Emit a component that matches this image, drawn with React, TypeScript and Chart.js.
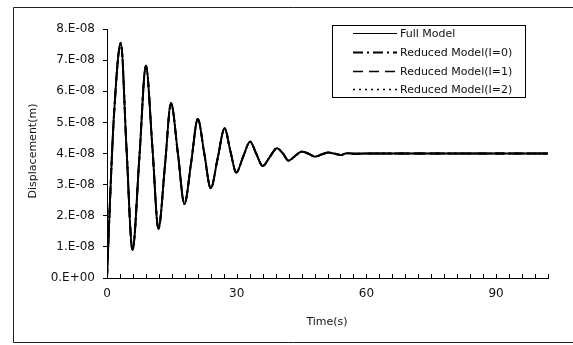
import React, { useEffect, useRef } from "react";
import Chart from "chart.js/auto";

// time (s)
const timeS = [
  0, 0.7, 1.6, 3.2, 4.5, 5.9, 7.5, 9.0, 10.5, 11.9, 13.4, 14.8, 16.4, 17.9, 19.5, 21.0,
  22.5, 24.0, 25.6, 27.2, 28.5, 29.9, 31.5, 33.1, 34.5, 36.0, 37.7, 39.3, 40.7, 42.0,
  43.5, 45.0, 46.5, 48.1, 49.7, 51.2, 52.5, 54.0, 55.5, 57.5, 60, 66, 72, 78, 84, 90, 96, 102,
];

// displacement (m)
const fullModel = [
  0, 2.5e-8, 5.2e-8, 7.55e-8, 4.2e-8, 0.9e-8, 3.9e-8, 6.82e-8, 4.2e-8, 1.58e-8, 3.6e-8, 5.62e-8,
  4.0e-8, 2.38e-8, 3.75e-8, 5.11e-8, 4.0e-8, 2.88e-8, 3.85e-8, 4.81e-8, 4.1e-8, 3.39e-8, 3.9e-8,
  4.38e-8, 4.0e-8, 3.6e-8, 3.9e-8, 4.17e-8, 4.0e-8, 3.77e-8, 3.92e-8, 4.06e-8, 4.0e-8, 3.9e-8,
  3.97e-8, 4.03e-8, 4.0e-8, 3.95e-8, 4.01e-8, 3.99e-8, 4.0e-8, 4.0e-8, 4.0e-8, 4.0e-8, 4.0e-8,
  4.0e-8, 4.0e-8, 4.0e-8,
];
const reducedI0 = fullModel.slice();
const reducedI1 = fullModel.slice();
const reducedI2 = fullModel.slice();

const seriesNames = ["Full Model", "Reduced Model(I=0)", "Reduced Model(I=1)", "Reduced Model(I=2)"];
const yTickLabels = ["0.E+00", "1.E-08", "2.E-08", "3.E-08", "4.E-08", "5.E-08", "6.E-08", "7.E-08", "8.E-08"];
const xTickLabels = [0, 30, 60, 90];

const FONT = "'DejaVu Sans', sans-serif";

const decorPlugin = {
  id: "decor",
  afterDraw(chart: any) {
    const ctx = chart.ctx;
    const xs = chart.scales.x;
    const area = chart.chartArea;
    ctx.save();
    // outer frame
    ctx.strokeStyle = "#222";
    ctx.lineWidth = 1;
    ctx.beginPath();
    ctx.moveTo(573, 7.5);
    ctx.lineTo(13.5, 7.5);
    ctx.lineTo(13.5, 342.5);
    ctx.lineTo(573, 342.5);
    ctx.stroke();

    // inward x ticks
    ctx.strokeStyle = "#000";
    ctx.beginPath();
    for (let t = 0; t <= 102; t += 3) {
      const px = Math.round(xs.getPixelForValue(t)) + 0.5;
      ctx.moveTo(px, area.bottom);
      ctx.lineTo(px, area.bottom - 4);
    }
    ctx.stroke();

    // axis titles
    ctx.fillStyle = "#111";
    ctx.font = `11px ${FONT}`;
    ctx.textAlign = "center";
    ctx.textBaseline = "middle";
    ctx.fillText("Time(s)", 327, 322);
    ctx.save();
    ctx.translate(33, 151);
    ctx.rotate(-Math.PI / 2);
    ctx.fillText("Displacement(m)", 0, 0);
    ctx.restore();

    // legend
    ctx.lineWidth = 1;
    ctx.strokeStyle = "#000";
    ctx.strokeRect(332.5, 25.5, 193, 72);
    const rows = [33, 52, 71, 89];
    const dashes = [[], [10, 4, 2, 4], [10, 6], [2, 4]];
    const widths = [1, 2, 1.5, 1.5];
    ctx.textAlign = "left";
    for (let i = 0; i < 4; i++) {
      ctx.beginPath();
      ctx.setLineDash(dashes[i]);
      ctx.lineWidth = widths[i];
      ctx.moveTo(353, rows[i] + 0.5);
      ctx.lineTo(397, rows[i] + 0.5);
      ctx.stroke();
      ctx.setLineDash([]);
      ctx.fillText(seriesNames[i], 400, rows[i] + 1);
    }
    ctx.restore();
  },
};

export default function App() {
  const ref = useRef<HTMLCanvasElement>(null);
  useEffect(() => {
    document.body.style.margin = "0";
    Chart.defaults.font.family = FONT;
    Chart.defaults.color = "#111";
    const mk = (arr: number[]) => timeS.map((t, i) => ({ x: t, y: arr[i] }));
    const base = {
      borderColor: "#000",
      pointRadius: 0,
      fill: false,
      cubicInterpolationMode: "monotone" as const,
    };
    const chart = new Chart(ref.current!, {
      type: "line",
      data: {
        datasets: [
          { ...base, label: seriesNames[0], data: mk(fullModel), borderWidth: 1.9 },
          { ...base, label: seriesNames[1], data: mk(reducedI0), borderWidth: 1.9, borderDash: [10, 4, 2, 4] },
          { ...base, label: seriesNames[2], data: mk(reducedI1), borderWidth: 1.9, borderDash: [10, 6] },
          { ...base, label: seriesNames[3], data: mk(reducedI2), borderWidth: 1.9, borderDash: [2, 4] },
        ],
      },
      options: {
        responsive: false,
        animation: false,
        layout: { padding: { top: 29, right: 25, left: 0, bottom: 0 } },
        plugins: { legend: { display: false }, tooltip: { enabled: false } },
        scales: {
          x: {
            type: "linear",
            min: 0,
            max: 102,
            afterFit: (s: any) => { s.height = 67; },
            grid: { display: false, drawTicks: false },
            border: { display: true, color: "#000", width: 1 },
            ticks: {
              stepSize: 3,
              autoSkip: false,
              maxRotation: 0,
              padding: 9,
              font: { size: 12, family: FONT },
              callback: (v: any) => (xTickLabels.includes(Number(v)) ? String(v) : ""),
            },
          },
          y: {
            type: "linear",
            min: 0,
            max: 8e-8,
            afterFit: (s: any) => { s.width = 107; },
            grid: { display: true, drawOnChartArea: false, drawTicks: true, tickLength: 4, color: "#000" },
            border: { display: true, color: "#000", width: 1 },
            ticks: {
              stepSize: 1e-8,
              padding: 8,
              font: { size: 12, family: FONT },
              callback: (_v: any, i: number) => yTickLabels[i],
            },
          },
        },
      },
      plugins: [decorPlugin],
    });
    return () => chart.destroy();
  }, []);
  return (
    <div style={{ position: "absolute", left: 0, top: 0, width: 573, height: 345 }}>
      <canvas ref={ref} width={573} height={345} />
    </div>
  );
}
